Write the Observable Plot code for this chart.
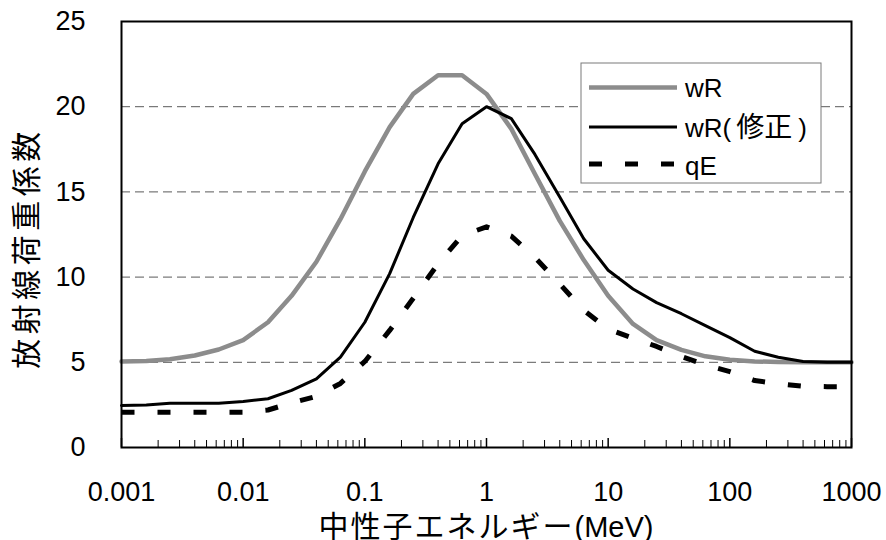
<!DOCTYPE html>
<html>
<head>
<meta charset="utf-8">
<script src="https://cdn.jsdelivr.net/npm/d3@7"></script>
<script src="https://cdn.jsdelivr.net/npm/@observablehq/plot@0.6"></script>
<style>
  html, body { margin: 0; padding: 0; background: #fff; }
  #chart { width: 886px; height: 540px; }
</style>
</head>
<body>
<div id="chart"></div>
<script>
// Neutron energy (MeV)
const energy = [0.001, 0.0016, 0.0025, 0.004, 0.0063, 0.01, 0.016, 0.025, 0.04, 0.063,
                0.1, 0.16, 0.25, 0.4, 0.63, 1, 1.6, 2.5, 4, 6.3,
                10, 16, 25, 40, 63, 100, 160, 250, 400, 630, 1000];
// wR
const wR = [5.05, 5.07, 5.18, 5.4, 5.75, 6.3, 7.35, 8.9, 10.9, 13.4,
            16.2, 18.8, 20.75, 21.85, 21.85, 20.75, 18.7, 16.05, 13.3, 11.0,
            8.9, 7.25, 6.3, 5.73, 5.35, 5.15, 5.05, 5.02, 5.0, 5.0, 5.0];
// wR（修正）
const wRmod = [2.46, 2.5, 2.6, 2.6, 2.6, 2.7, 2.86, 3.35, 4.03, 5.3,
               7.35, 10.2, 13.5, 16.65, 19.0, 20.0, 19.3, 17.2, 14.7, 12.25,
               10.4, 9.3, 8.5, 7.85, 7.15, 6.45, 5.65, 5.3, 5.05, 5.0, 5.0];
// qE
const qE = [2.07, 2.07, 2.07, 2.07, 2.07, 2.07, 2.2, 2.62, 3.0, 3.76,
            5.05, 6.87, 8.76, 10.78, 12.44, 12.95, 12.4, 11.15, 9.6, 8.05,
            6.95, 6.42, 5.93, 5.34, 4.85, 4.45, 3.93, 3.74, 3.6, 3.57, 3.57];

const xTicks = [0.001, 0.01, 0.1, 1, 10, 100, 1000];
const xTickLabels = ["0.001", "0.01", "0.1", "1", "10", "100", "1000"];
const yTicks = [0, 5, 10, 15, 20, 25];
const yGrid = [5, 10, 15, 20];
const seriesNames = ["wR", "wR(修正)", "qE"];

const minorTicks = [];
xTicks.slice(0, -1).forEach(d => { for (let k = 2; k <= 9; k++) minorTicks.push(d * k); });

const rows = (vals) => energy.map((e, i) => ({e, v: vals[i]}));

const W = 886, H = 540, mL = 121, mR = 35, mT = 21, mB = 93;
const innerH = H - mT - mB;

const chart = Plot.plot({
  width: W, height: H,
  marginLeft: mL, marginRight: mR, marginTop: mT, marginBottom: mB,
  x: {type: "log", domain: [0.001, 1000]},
  y: {domain: [0, 25]},
  style: {fontFamily: "'Liberation Sans', Arial, 'Noto Sans CJK JP', sans-serif", fontSize: "27px", background: "#fff", color: "#000"},
  marks: [
    Plot.gridY(yGrid, {stroke: "#5a5a5a", strokeOpacity: 1, strokeWidth: 1, strokeDasharray: "9,5"}),
    Plot.tickX(minorTicks, {x: d => d, insetTop: innerH - 7, stroke: "#000", strokeWidth: 1}),
    Plot.tickX(xTicks, {x: d => d, insetTop: innerH - 9, stroke: "#000", strokeWidth: 1.5}),
    Plot.axisX(xTicks, {tickSize: 0, tickPadding: 34, fontSize: 27, label: null,
      tickFormat: d => xTickLabels[xTicks.indexOf(d)]}),
    Plot.axisY(yTicks, {tickSize: 0, tickPadding: 36, fontSize: 27, label: null}),
    Plot.line(rows(wR), {x: "e", y: "v", stroke: "#8c8c8c", strokeWidth: 4.5}),
    Plot.line(rows(wRmod), {x: "e", y: "v", stroke: "#000", strokeWidth: 3}),
    Plot.line(rows(qE), {x: "e", y: "v", stroke: "#000", strokeWidth: 5, strokeDasharray: "13,23", strokeLinecap: "butt"}),
    Plot.frame({stroke: "#000", strokeWidth: 2})
  ]
});

document.getElementById("chart").appendChild(chart);

const svg = d3.select(chart);
const cjk = "'Noto Sans CJK JP', sans-serif";
const lat = "'Liberation Sans', Arial, sans-serif";

// Legend
const lg = svg.append("g").attr("text-anchor", "start");
lg.append("rect").attr("x", 581).attr("y", 63).attr("width", 240).attr("height", 120)
  .attr("fill", "#fff").attr("stroke", "#7a7a7a").attr("stroke-width", 1);
const legendItems = [
  {name: seriesNames[0], y: 87.5, stroke: "#8c8c8c", w: 4.5, dash: null, base: 96.5},
  {name: seriesNames[1], y: 127, stroke: "#000", w: 3, dash: null, base: 136.5},
  {name: seriesNames[2], y: 164, stroke: "#000", w: 5, dash: "13,23", base: 175}
];
legendItems.forEach((it, i) => {
  lg.append("line").attr("x1", 589).attr("x2", 677).attr("y1", it.y).attr("y2", it.y)
    .attr("stroke", it.stroke).attr("stroke-width", it.w)
    .attr("stroke-dasharray", it.dash);
  const t = lg.append("text").attr("x", 685).attr("y", it.base).attr("text-anchor", "start")
    .attr("font-family", lat).attr("font-size", 26).attr("fill", "#000");
  if (i === 1) {
    t.append("tspan").text("wR(");
    t.append("tspan").attr("font-family", cjk).attr("font-size", 28).attr("dx", 5).text("修正");
    t.append("tspan").attr("dx", 6).text(")");
  } else {
    t.text(it.name);
  }
});

// X axis title
const xt = svg.append("text").attr("x", mL + (W - mL - mR) / 2).attr("y", 537)
  .attr("text-anchor", "middle").attr("fill", "#000");
xt.append("tspan").attr("font-family", cjk).attr("font-size", 30).attr("letter-spacing", 2).text("中性子エネルギー");
xt.append("tspan").attr("font-family", lat).attr("font-size", 29).text("(MeV)");

// Y axis title
svg.append("text").attr("transform", "translate(37,248) rotate(-90)")
  .attr("text-anchor", "middle").attr("font-family", cjk).attr("font-size", 30)
  .attr("letter-spacing", 4.5).attr("fill", "#000").text("放射線荷重係数");
</script>
</body>
</html>
